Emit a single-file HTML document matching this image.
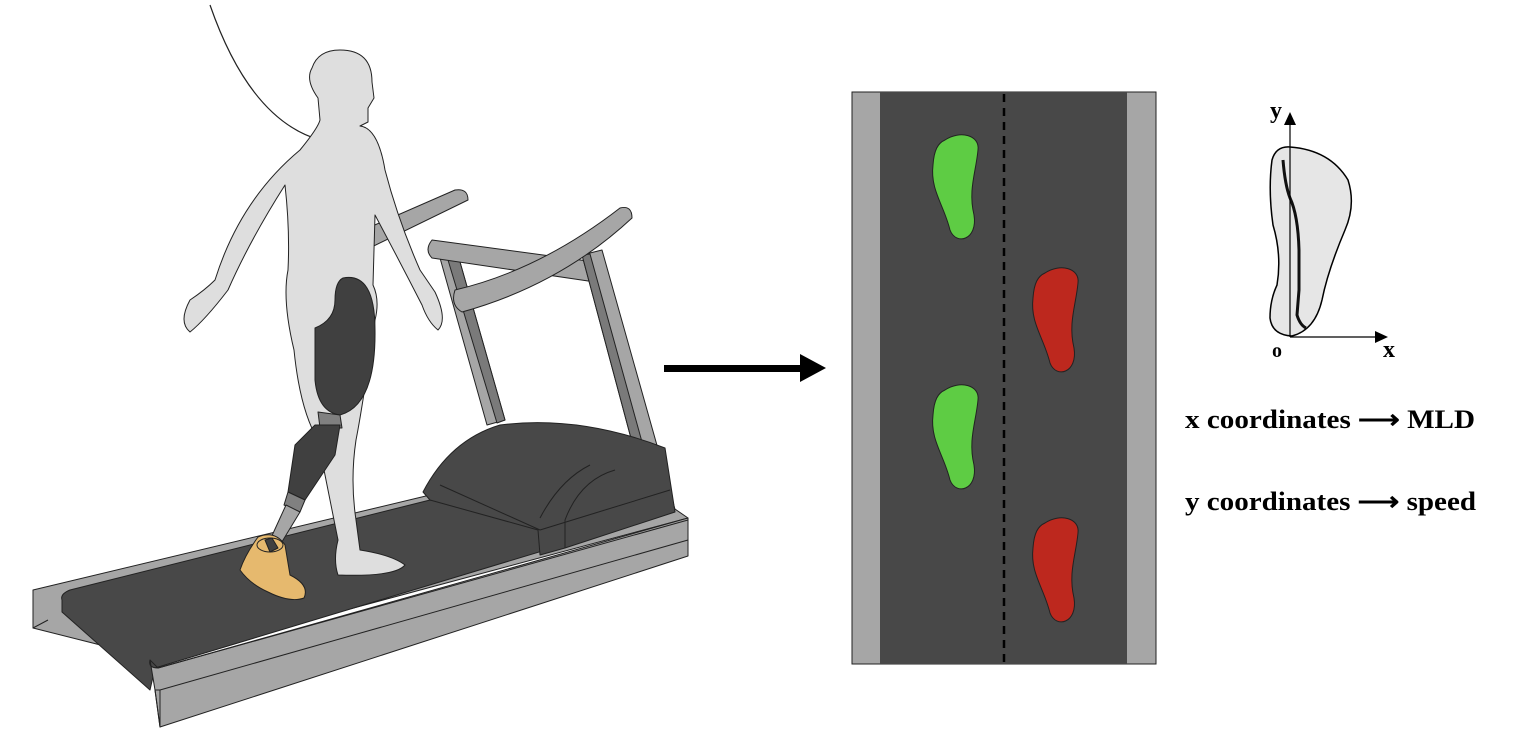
<!DOCTYPE html>
<html><head><meta charset="utf-8"><style>
html,body{margin:0;padding:0;background:#fff;width:1518px;height:748px;overflow:hidden}
svg{display:block}
text{font-family:"Liberation Serif",serif;font-weight:bold;fill:#000}
</style></head><body>
<svg width="1518" height="748" viewBox="0 0 1518 748" xmlns="http://www.w3.org/2000/svg">
<g stroke="#222" stroke-width="1" stroke-linejoin="round">
<path d="M290,262 L455,190 Q468,188 468,200 L300,282 Q288,280 290,262 Z" fill="#a6a6a6"/>
<path d="M440,258 L458,255 L505,420 L487,425 Z" fill="#a6a6a6"/>
<path d="M448,260 L458,255 L505,420 L497,423 Z" fill="#7a7a7a"/>
<path d="M432,240 L595,262 L595,282 L432,258 Q424,250 432,240 Z" fill="#a6a6a6"/>
<path d="M582,255 L602,250 L678,520 L655,528 Z" fill="#a6a6a6"/>
<path d="M582,255 L590,254 L665,525 L655,528 Z" fill="#7a7a7a"/>
<path d="M455,290 Q540,270 620,208 Q632,205 632,218 Q560,285 462,312 Q450,305 455,290 Z" fill="#a6a6a6"/>
<path d="M33,590 L430,495 L672,507 L688,518 L160,660 L33,628 Z" fill="#a6a6a6"/>
<path d="M62,600 Q60,594 70,590 L430,500 L645,510 L645,520 L155,668 L150,690 L62,612 Z" fill="#484848"/>
<path d="M423,492 Q450,440 500,425 Q580,415 665,448 L675,512 L565,548 L540,555 L538,530 L430,500 Z" fill="#484848"/>
<path d="M440,485 L540,530 M540,530 L670,490 M565,548 L565,520 Q580,480 615,470 M540,518 Q560,480 590,465" fill="none"/>
<path d="M150,660 Q148,668 158,668 L688,518 L688,556 L160,727 L155,690 Z" fill="#a6a6a6"/>
<path d="M155,690 L160,727 L160,690 Z M150,660 L158,668 L688,520" fill="none"/>
<path d="M160,690 L688,540" fill="none"/>
<path d="M33,590 L33,628 L48,620" fill="#a6a6a6"/>
<path d="M210,5 Q250,120 320,140" fill="none" stroke-width="1.2"/>
<path d="M340,50 Q372,50 372,82 L374,98 L368,108 L368,122 L360,126 Q378,128 385,170 Q398,220 420,270 L435,292 Q448,320 438,330 Q428,322 422,305 Q400,262 375,215 L373,285 Q380,300 375,320 Q362,410 356,440 Q350,480 356,520 L360,550 Q392,555 405,565 Q395,577 338,575 Q333,560 338,540 Q326,480 318,440 Q300,410 294,350 Q282,300 288,270 Q290,230 285,185 Q250,240 228,290 Q205,320 190,332 Q178,322 190,300 Q205,290 215,280 Q240,200 300,150 Q318,128 320,120 L318,98 Q305,80 312,68 Q318,50 340,50 Z" fill="#dedede"/>
<path d="M343,278 Q375,272 375,330 Q376,405 340,415 Q318,412 315,380 L315,328 Q335,320 335,300 Q335,282 343,278 Z" fill="#404040"/>
<path d="M318,412 L340,415 L342,428 L320,428 Z" fill="#808080"/>
<path d="M315,425 L340,425 L335,455 L305,500 L288,492 L295,445 Z" fill="#404040"/>
<path d="M288,492 L305,500 L300,512 L284,505 Z" fill="#808080"/>
<path d="M286,505 L300,512 L280,545 L270,540 Z" fill="#a6a6a6"/>
<path d="M258,537 Q275,530 285,545 L290,575 Q310,585 304,598 Q290,603 268,592 Q250,584 240,570 Q245,555 258,537 Z" fill="#e6b96e"/>
<ellipse cx="270" cy="545" rx="13" ry="7" fill="#e6b96e"/>
<path d="M265,540 L272,538 L278,548 L270,552 Z" fill="#404040"/>
</g>
<rect x="664" y="365" width="140" height="7" fill="#000"/>
<polygon points="800,354 826,368 800,382" fill="#000"/>
<rect x="852" y="92" width="304" height="572" fill="#a6a6a6" stroke="#222" stroke-width="1"/>
<rect x="880" y="92" width="247" height="572" fill="#484848"/>
<line x1="1004" y1="94" x2="1004" y2="664" stroke="#000" stroke-width="2.5" stroke-dasharray="8,6"/>
<defs>
<path id="ft" d="M945,140 C960,130 980,135 978,150 C976,172 968,190 974,215 C978,240 956,246 950,230 C944,205 930,190 933,165 C934,150 938,143 945,140 Z" stroke="#222" stroke-width="1"/>
</defs>
<use href="#ft" fill="#5ecc44"/>
<use href="#ft" fill="#5ecc44" transform="translate(0,250)"/>
<use href="#ft" fill="#bd281e" transform="translate(100,133)"/>
<use href="#ft" fill="#bd281e" transform="translate(100,383)"/>
<path d="M1290,147 Q1330,150 1348,180 Q1356,205 1345,230 Q1328,270 1322,300 Q1315,330 1292,336 Q1272,335 1270,318 Q1270,300 1277,285 Q1282,255 1273,225 Q1268,190 1272,160 Q1276,146 1290,147 Z" fill="#e6e6e6" stroke="#000" stroke-width="1.5"/>
<path d="M1283,160 Q1285,185 1290,198 Q1298,215 1299,250 L1299,290 L1297,315 Q1300,325 1306,328" fill="none" stroke="#111" stroke-width="3"/>
<line x1="1290" y1="337" x2="1290" y2="122" stroke="#000" stroke-width="1.2"/>
<polygon points="1284,125 1290,112 1296,125" fill="#000"/>
<line x1="1290" y1="337" x2="1378" y2="337" stroke="#000" stroke-width="1.2"/>
<polygon points="1375,331 1388,337 1375,343" fill="#000"/>
<text x="1270" y="118" font-size="24">y</text>
<text x="1272" y="357" font-size="20">o</text>
<text x="1383" y="357" font-size="24">x</text>
<text x="1185" y="428" font-size="26" textLength="290" lengthAdjust="spacingAndGlyphs">x coordinates ⟶ MLD</text>
<text x="1185" y="510" font-size="26" textLength="291" lengthAdjust="spacingAndGlyphs">y coordinates ⟶ speed</text>
</svg>
</body></html>
